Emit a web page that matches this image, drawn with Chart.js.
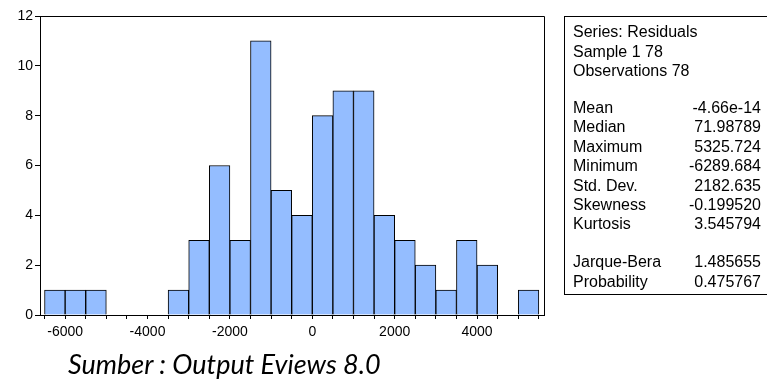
<!DOCTYPE html>
<html>
<head>
<meta charset="utf-8">
<script src="https://cdn.jsdelivr.net/npm/chart.js@4/dist/chart.umd.min.js"></script>
<style>
  html, body { margin: 0; padding: 0; background: #fff; }
  #wrap { position: relative; width: 767px; height: 381px; overflow: hidden; }
  #myChart { position: absolute; left: 0; top: 0; }
  #stats {
    position: absolute; left: 564px; top: 16px; width: 220px; height: 279px;
    border: 1px solid #000; box-sizing: border-box;
    font: 16px "Liberation Sans", Arial, sans-serif; color: #000;
  }
  #stats div { position: absolute; left: 8px; white-space: nowrap; line-height: 18px; }
  #stats .v { left: auto; right: 22px; text-align: right; }
  #caption {
    position: absolute; left: 68px; top: 348px;
    font: italic 27px Lato, "Open Sans", sans-serif; line-height: 1.2; color: #000; white-space: nowrap;
  }
</style>
</head>
<body>
<div id="wrap">
  <canvas id="myChart" width="767" height="381"></canvas>
  <div id="stats"></div>
  <div id="caption">Sumber : Output Eviews 8.0</div>
</div>
<script>
// histogram bins (lower edge) and counts, bin width 500
const binLower = [-6500, -6000, -5500, -5000, -4500, -4000, -3500, -3000, -2500, -2000,
                  -1500, -1000, -500, 0, 500, 1000, 1500, 2000, 2500, 3000,
                  3500, 4000, 4500, 5000];
const counts = [1, 1, 1, 0, 0, 0, 1, 3, 6, 3,
                11, 5, 4, 8, 9, 9, 4, 3, 2, 1,
                3, 2, 0, 1];
const BIN_WIDTH = 500;
const xTickLabels = [-6000, -4000, -2000, 0, 2000, 4000];

const headerLines = ['Series: Residuals', 'Sample 1 78', 'Observations 78'];
const statNames = ['Mean', 'Median', 'Maximum', 'Minimum', 'Std. Dev.', 'Skewness', 'Kurtosis'];
const statValues = ['-4.66e-14', '71.98789', '5325.724', '-6289.684', '2182.635', '-0.199520', '3.545794'];
const testNames = ['Jarque-Bera', 'Probability'];
const testValues = ['1.485655', '0.475767'];

// stats box text
const stats = document.getElementById('stats');
function addLine(text, y, cls) {
    const d = document.createElement('div');
    d.textContent = text;
    d.style.top = y + 'px';
    if (cls) d.className = cls;
    stats.appendChild(d);
}
let yy = 6;
headerLines.forEach(t => { addLine(t, yy); yy += 19.5; });
yy = 82;
statNames.forEach((t, i) => { addLine(t, yy); addLine(statValues[i], yy, 'v'); yy += 19.4; });
yy = 236;
testNames.forEach((t, i) => { addLine(t, yy); addLine(testValues[i], yy, 'v'); yy += 19.5; });

// top and right border of the plot box
const frame = {
    id: 'frame',
    afterDraw(chart) {
        const { ctx, chartArea: a } = chart;
        ctx.save();
        ctx.strokeStyle = '#000';
        ctx.lineWidth = 1;
        ctx.beginPath();
        ctx.moveTo(a.left, a.top + 0.5);
        ctx.lineTo(a.right + 0.5, a.top + 0.5);
        ctx.lineTo(a.right + 0.5, a.bottom);
        ctx.stroke();
        ctx.restore();
    }
};

const ctx = document.getElementById('myChart').getContext('2d');
new Chart(ctx, {
    type: 'bar',
    data: {
        datasets: [{
            data: binLower.map((b, i) => ({ x: b + BIN_WIDTH / 2, y: counts[i] })),
            backgroundColor: '#94bdff',
            borderColor: '#000',
            borderWidth: 1,
            borderSkipped: 'start',
            barPercentage: 1,
            categoryPercentage: 1,
        }]
    },
    options: {
        responsive: false,
        animation: false,
        layout: { padding: { top: 16, right: 223, left: 0, bottom: 0 } },
        plugins: { legend: { display: false }, tooltip: { enabled: false } },
        scales: {
            x: {
                type: 'linear',
                min: -6610,
                max: 5625,
                bounds: 'data',
                offset: false,
                afterFit(scale) { scale.height = 66; },
                // one tick mark at every bin edge
                afterBuildTicks(scale) {
                    const edges = binLower.concat([binLower[binLower.length - 1] + BIN_WIDTH]);
                    scale.ticks = edges.map(v => ({ value: v }));
                },
                border: { color: '#000', width: 1 },
                grid: { offset: false, drawOnChartArea: false, drawTicks: true, tickLength: 4, color: '#000' },
                ticks: {
                    autoSkip: false,
                    maxRotation: 0,
                    minRotation: 0,
                    padding: 5,
                    color: '#000',
                    font: { family: 'Liberation Sans, Arial', size: 14 },
                    callback(value) {
                        return xTickLabels.includes(value) ? String(value) : '';
                    }
                }
            },
            y: {
                min: 0,
                max: 12,
                afterFit(scale) { scale.width = 40; },
                border: { color: '#000', width: 1 },
                grid: { drawOnChartArea: false, drawTicks: true, tickLength: 5, color: '#000' },
                ticks: {
                    stepSize: 2,
                    padding: 2,
                    color: '#000',
                    font: { family: 'Liberation Sans, Arial', size: 14 }
                }
            }
        }
    },
    plugins: [frame]
});
</script>
</body>
</html>
